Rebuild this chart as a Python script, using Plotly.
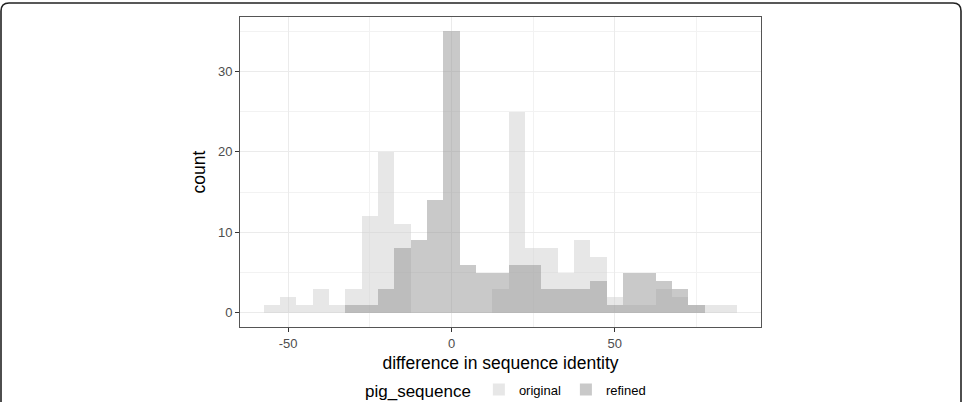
import plotly.graph_objects as go

# bin centres (binwidth 5)
bin_centers = [-55, -50, -45, -40, -35, -30, -25, -20, -15, -10, -5, 0, 5, 10, 15,
               20, 25, 30, 35, 40, 45, 50, 55, 60, 65, 70, 75, 80, 85]
original_counts = [1, 2, 1, 3, 1, 3, 12, 20, 11, 0, 0, 0, 0, 0, 3,
                   25, 8, 8, 5, 9, 7, 2, 1, 1, 3, 2, 1, 1, 1]
refined_counts = [0, 0, 0, 0, 0, 1, 1, 3, 8, 9, 14, 35, 6, 5, 5,
                  6, 6, 3, 3, 3, 4, 1, 5, 5, 4, 3, 1, 0, 0]
series_names = ["original", "refined"]
x_ticks = [-50, 0, 50]
y_ticks = [0, 10, 20, 30]
binwidth = 5

FONT = "Liberation Sans, Arial, Helvetica, sans-serif"

fig = go.Figure()
fig.add_trace(go.Bar(
    x=bin_centers, y=original_counts, width=binwidth, name=series_names[0],
    marker=dict(color="rgba(207,207,207,0.5)", line=dict(width=0)),
))
fig.add_trace(go.Bar(
    x=bin_centers, y=refined_counts, width=binwidth, name=series_names[1],
    marker=dict(color="rgba(147,147,147,0.5)", line=dict(width=0)),
))

# plot area in pixels
L, R, T, B = 240, 761, 17, 327
W, H = 963, 402
pw, ph = R - L, B - T

def px(xp):
    return (xp - L) / pw

def py(yp):
    return (B - yp) / ph

rx, ry = 8 / pw, 8 / ph
left, right, top, bottom = px(1), px(961), py(3), py(430)
frame_path = (f"M {left},{bottom} L {left},{top - ry} Q {left},{top} {left + rx},{top} "
              f"L {right - rx},{top} Q {right},{top} {right},{top - ry} L {right},{bottom}")

fig.update_layout(
    width=W, height=H,
    margin=dict(l=L, r=W - R, t=T, b=H - B, autoexpand=False),
    barmode="overlay",
    bargap=0,
    paper_bgcolor="white",
    plot_bgcolor="white",
    font=dict(family=FONT, color="#000000"),
    showlegend=True,
    legend=dict(
        orientation="h",
        x=px(507), xanchor="center",
        y=py(391), yanchor="middle",
        title=dict(text="pig_sequence", font=dict(size=17, color="#000000"), side="left"),
        font=dict(size=13, color="#000000"),
        itemwidth=30,
        bgcolor="rgba(0,0,0,0)",
    ),
    shapes=[dict(type="path", xref="paper", yref="paper", path=frame_path,
                 line=dict(color="#222222", width=1.6), layer="above")],
)

fig.update_xaxes(
    range=[-64.75, 94.75],
    tickvals=x_ticks, ticktext=[str(v) for v in x_ticks],
    ticks="outside", ticklen=4, tickwidth=1, tickcolor="#333333",
    tickfont=dict(size=13, color="#4D4D4D"),
    showgrid=True, gridcolor="#EBEBEB", gridwidth=1,
    minor=dict(tickvals=[-25, 25, 75], showgrid=True, gridcolor="#F2F2F2", gridwidth=0.6, ticks=""),
    showline=True, mirror=True, linecolor="#555555", linewidth=1,
    zeroline=False,
    title=dict(text="difference in sequence identity", font=dict(size=17.5, color="#000000"), standoff=7),
)
fig.update_yaxes(
    range=[-1.75, 36.75],
    tickvals=y_ticks, ticktext=[str(v) for v in y_ticks],
    ticks="outside", ticklen=4, tickwidth=1, tickcolor="#333333",
    tickfont=dict(size=13, color="#4D4D4D"),
    showgrid=True, gridcolor="#EBEBEB", gridwidth=1,
    minor=dict(tickvals=[5, 15, 25, 35], showgrid=True, gridcolor="#F2F2F2", gridwidth=0.6, ticks=""),
    showline=True, mirror=True, linecolor="#555555", linewidth=1,
    zeroline=False,
    title=dict(text="count", font=dict(size=17.5, color="#000000"), standoff=7),
)

fig.write_html("out.html")
